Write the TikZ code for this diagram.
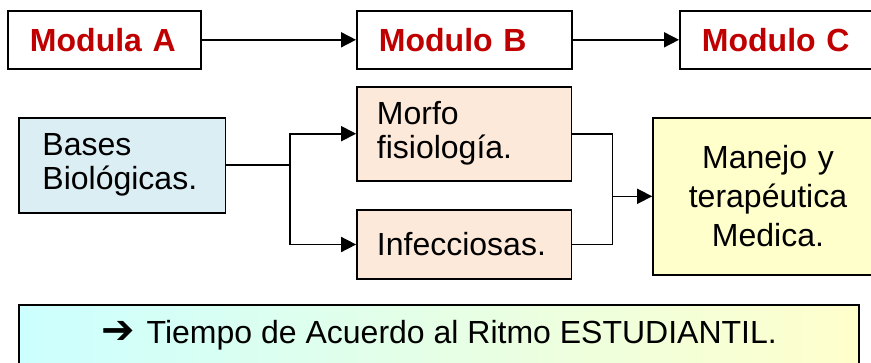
\documentclass[tikz,border=0pt]{standalone}
\usepackage{fontspec}
\setmainfont{Liberation Sans}
\newfontfamily\bodyfont{Liberation Sans}
\newfontfamily\symfont{DejaVu Sans}
\usetikzlibrary{arrows.meta, positioning}
\definecolor{modred}{RGB}{192, 0, 0}
\definecolor{basesblue}{RGB}{218, 238, 243}
\definecolor{ramopeach}{RGB}{253, 233, 217}
\definecolor{manejoyellow}{RGB}{255, 255, 204}
\definecolor{ritmocyan}{RGB}{204, 255, 255}

\begin{document}
\begin{tikzpicture}[x=1pt, y=-1pt,
    >={Triangle[length=15pt, width=15pt]},
    modbox/.style={draw, line width=1.8pt, minimum height=58pt, inner ysep=0pt,
        inner xsep=22pt, text width=#1, align=left, text=modred,
        font=\fontsize{32}{36}\selectfont\bfseries},
    ramobox/.style={draw, line width=1.6pt, inner ysep=0pt, inner xsep=20pt,
        align=left, font=\bodyfont\fontsize{32}{34}\selectfont},
    enlace/.style={line width=1.6pt}]

\useasboundingbox (0,0) rectangle (871,362);
\clip (0,0) rectangle (871,362);

% === Fila superior: modulos ===
\node[modbox=149pt] (modA) at (104.5, 39.8) {Modula A};
\node[modbox=170.7pt] (modB) at (464.3, 39.8) {Modulo B};
\node[modbox=170.7pt] (modC) at (787.3, 39.8) {Modulo C};

\draw[enlace, ->] (modA) -- (modB);
\draw[enlace, ->] (modB) -- (modC);

% === Ramas ===
\node[ramobox, fill=basesblue, minimum height=95pt, inner xsep=23.5pt,
    text width=159.7pt] (bases) at (122.3, 165.2) {Bases\\Biológicas.};
\node[ramobox, fill=ramopeach, minimum height=94pt,
    text width=174.7pt] (morfo) at (464.3, 133.7) {Morfo\\fisiología.};
\node[ramobox, fill=ramopeach, minimum height=69pt,
    text width=174.7pt] (infec) at (464.3, 244.5) {Infecciosas.};
\node[ramobox, fill=manejoyellow, minimum height=157pt, align=center,
    text width=190pt, font=\bodyfont\fontsize{32}{39}\selectfont]
    (manejo) at (768, 196.3) {Manejo y\\terapéutica\\Medica.};

% Conectores
\coordinate (split) at (290, 165.2);
\coordinate (merge) at (612.3, 196.3);
\draw[enlace] (bases.east) -- (split);
\draw[enlace, ->] (split) |- (morfo.west);
\draw[enlace, ->] (split) |- (infec.west);
\draw[enlace] (morfo.east) -| (merge) |- (infec.east);
\draw[enlace, ->] (merge) -- (manejo.west);

% === Nota inferior ===
\node[draw, line width=1.6pt, left color=ritmocyan, right color=manejoyellow,
    minimum width=840pt, minimum height=61pt, inner sep=0pt,
    font=\bodyfont\fontsize{32}{34}\selectfont]
    (ritmo) at (439.1, 335.5)
    {{\symfont\bfseries\fontsize{40}{30}\selectfont ➔}\hspace{3pt} Tiempo de Acuerdo al Ritmo ESTUDIANTIL.};

\end{tikzpicture}
\end{document}
